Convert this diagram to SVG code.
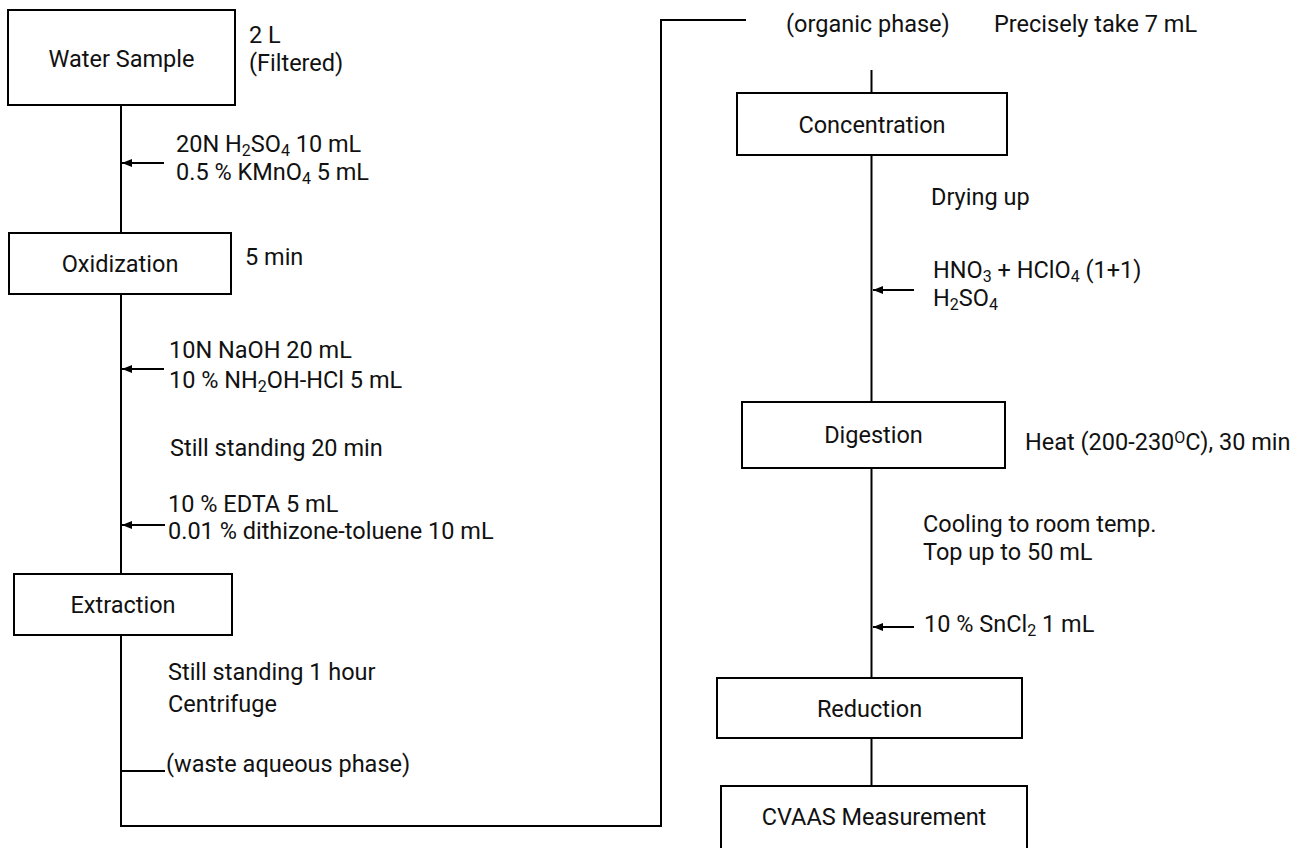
<svg xmlns="http://www.w3.org/2000/svg" width="1311" height="848" viewBox="0 0 1311 848">
<style>
  .box { fill: #ffffff; stroke: #000000; stroke-width: 2; }
  .ln { fill: none; stroke: #000000; stroke-width: 2; }
  .arr { fill: none; stroke: #000000; stroke-width: 2; marker-end: url(#ah); }
  text { font-family: Roboto, "Liberation Sans", sans-serif; font-size: 23.5px; fill: #111111; }
  .c { text-anchor: middle; }
  .sub { font-size: 16px; }
</style>
<defs>
  <marker id="ah" markerUnits="userSpaceOnUse" markerWidth="11" markerHeight="9" refX="10" refY="4" orient="auto">
    <path d="M0,0 L10,4 L0,8 Z" fill="#000000"/>
  </marker>
</defs>
<rect width="1311" height="848" fill="#ffffff"/>

<g id="connectors">
  <line class="ln" x1="121" y1="105" x2="121" y2="233"/>
  <line class="ln" x1="121" y1="294" x2="121" y2="574"/>
  <polyline class="ln" points="121,635 121,826 661,826 661,20 746,20"/>
  <line class="ln" x1="121" y1="771" x2="165" y2="771"/>
  <line class="arr" x1="164" y1="163" x2="122" y2="163"/>
  <line class="arr" x1="164" y1="369" x2="122" y2="369"/>
  <line class="arr" x1="165" y1="525" x2="122" y2="525"/>
  <line class="ln" x1="871.5" y1="70" x2="871.5" y2="93"/>
  <line class="ln" x1="871.5" y1="155" x2="871.5" y2="402"/>
  <line class="ln" x1="871.5" y1="468" x2="871.5" y2="678"/>
  <line class="ln" x1="871.5" y1="738" x2="871.5" y2="786"/>
  <line class="arr" x1="914" y1="290" x2="873" y2="290"/>
  <line class="arr" x1="914" y1="627" x2="873" y2="627"/>
</g>

<g id="water-sample">
  <rect class="box" x="8" y="10" width="227" height="95"/>
  <text class="c" x="121.5" y="67">Water Sample</text>
</g>
<g id="oxidization">
  <rect class="box" x="9" y="233" width="222" height="61"/>
  <text class="c" x="120" y="272">Oxidization</text>
</g>
<g id="extraction">
  <rect class="box" x="14" y="574" width="218" height="61"/>
  <text class="c" x="123" y="613">Extraction</text>
</g>
<g id="concentration">
  <rect class="box" x="737" y="93" width="270" height="62"/>
  <text class="c" x="872" y="133">Concentration</text>
</g>
<g id="digestion">
  <rect class="box" x="742" y="402" width="263" height="66"/>
  <text class="c" x="873.5" y="443">Digestion</text>
</g>
<g id="reduction">
  <rect class="box" x="717" y="678" width="305" height="60"/>
  <text class="c" x="869.5" y="717">Reduction</text>
</g>
<g id="cvaas">
  <rect class="box" x="721" y="786" width="306" height="80"/>
  <text class="c" x="874" y="825">CVAAS Measurement</text>
</g>

<g id="labels">
  <text x="249" y="43">2 L</text>
  <text x="249" y="71">(Filtered)</text>
  <text x="176" y="152">20N H<tspan class="sub" dy="4">2</tspan><tspan dy="-4">SO</tspan><tspan class="sub" dy="4">4</tspan><tspan dy="-4"> 10 mL</tspan></text>
  <text x="176" y="180">0.5 % KMnO<tspan class="sub" dy="4">4</tspan><tspan dy="-4"> 5 mL</tspan></text>
  <text x="245" y="265">5 min</text>
  <text x="169" y="358">10N NaOH 20 mL</text>
  <text x="169" y="388">10 % NH<tspan class="sub" dy="4">2</tspan><tspan dy="-4">OH-HCl 5 mL</tspan></text>
  <text x="170" y="456">Still standing 20 min</text>
  <text x="168" y="512">10 % EDTA 5 mL</text>
  <text x="168" y="539">0.01 % dithizone-toluene 10 mL</text>
  <text x="168" y="680">Still standing 1 hour</text>
  <text x="168" y="712">Centrifuge</text>
  <text x="166" y="772">(waste aqueous phase)</text>
  <text x="786" y="32">(organic phase)</text>
  <text x="994" y="32">Precisely take 7 mL</text>
  <text x="931" y="205">Drying up</text>
  <text x="933" y="278">HNO<tspan class="sub" dy="4">3</tspan><tspan dy="-4"> + HClO</tspan><tspan class="sub" dy="4">4</tspan><tspan dy="-4"> (1+1)</tspan></text>
  <text x="933" y="306">H<tspan class="sub" dy="4">2</tspan><tspan dy="-4">SO</tspan><tspan class="sub" dy="4">4</tspan></text>
  <text x="1025" y="450">Heat (200-230<tspan class="sub" dy="-7">O</tspan><tspan dy="7">C), 30 min</tspan></text>
  <text x="923" y="532">Cooling to room temp.</text>
  <text x="923" y="560">Top up to 50 mL</text>
  <text x="924" y="632">10 % SnCl<tspan class="sub" dy="4">2</tspan><tspan dy="-4"> 1 mL</tspan></text>
</g>
</svg>
